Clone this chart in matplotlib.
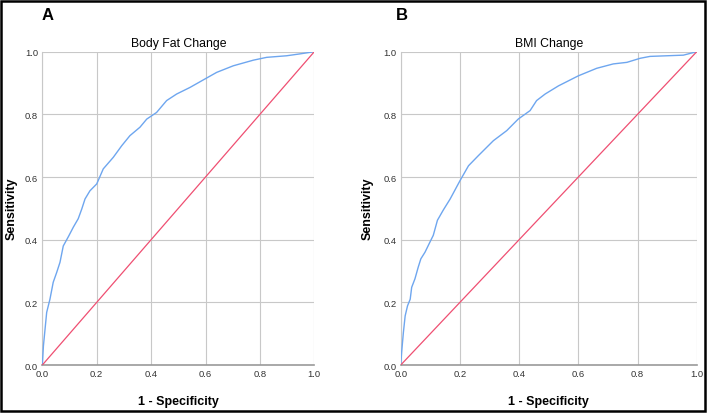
import numpy as np
import matplotlib
matplotlib.use("Agg")
import matplotlib.pyplot as plt
from matplotlib.patches import Rectangle

plt.rcParams['font.family'] = ['Liberation Sans', 'DejaVu Sans']

# ROC curve points (1 - specificity, sensitivity)
fat_fpr = [0.0, 0.004, 0.016, 0.028, 0.04, 0.053, 0.065, 0.077, 0.096, 0.114, 0.132, 0.145,
           0.157, 0.175, 0.2, 0.224, 0.261, 0.292, 0.322, 0.359, 0.384, 0.42, 0.457, 0.494,
           0.543, 0.598, 0.641, 0.702, 0.776, 0.825, 0.898, 0.947, 1.0]
fat_tpr = [0.0, 0.061, 0.168, 0.21, 0.264, 0.296, 0.328, 0.38, 0.41, 0.44, 0.467, 0.498,
           0.53, 0.556, 0.578, 0.626, 0.663, 0.70, 0.732, 0.759, 0.785, 0.806, 0.844, 0.865,
           0.886, 0.913, 0.934, 0.955, 0.973, 0.982, 0.987, 0.993, 1.0]

bmi_fpr = [0.0, 0.003, 0.009, 0.015, 0.023, 0.032, 0.037, 0.048, 0.059, 0.068, 0.082, 0.099,
           0.11, 0.124, 0.144, 0.167, 0.2, 0.229, 0.262, 0.313, 0.358, 0.397, 0.437, 0.459,
           0.488, 0.533, 0.6, 0.662, 0.718, 0.764, 0.809, 0.842, 0.955, 1.0]
bmi_tpr = [0.0, 0.04, 0.104, 0.157, 0.189, 0.21, 0.248, 0.275, 0.312, 0.339, 0.36, 0.393,
           0.414, 0.462, 0.495, 0.53, 0.588, 0.636, 0.668, 0.716, 0.748, 0.785, 0.812, 0.844,
           0.865, 0.891, 0.923, 0.947, 0.961, 0.966, 0.979, 0.985, 0.989, 1.0]

titles = ['Body Fat Change', 'BMI Change']
letters = ['A', 'B']
ticks = [0.0, 0.2, 0.4, 0.6, 0.8, 1.0]

fig = plt.figure(figsize=(7.09, 4.14), dpi=100)
fig.patches.append(Rectangle((0.002, 0.004), 0.993, 0.992, transform=fig.transFigure,
                             fill=False, edgecolor='black', linewidth=1.8))

positions = [[0.0597, 0.1159, 0.3836, 0.7568], [0.5652, 0.1159, 0.4175, 0.7568]]
curves = [(fat_fpr, fat_tpr), (bmi_fpr, bmi_tpr)]
letter_x = [0.059, 0.5585]
ylabel_x = [0.016, 0.518]

for i in range(2):
    ax = fig.add_axes(positions[i])
    ax.plot(curves[i][0], curves[i][1], color='#6ea6ef', linewidth=1.0, zorder=3)
    ax.plot([0, 1], [0, 1], color='#ef4f72', linewidth=0.9, zorder=3)
    ax.set_xlim(0, 1)
    ax.set_ylim(0, 1)
    ax.set_xticks(ticks)
    ax.set_yticks(ticks)
    ax.set_xticklabels(['%.1f' % t for t in ticks])
    ax.set_yticklabels(['%.1f' % t for t in ticks])
    ax.tick_params(length=0, labelsize=6.8, colors='#333333', pad=3)
    ax.grid(True, color='#c8c8c8', linewidth=0.8)
    ax.set_axisbelow(True)
    for s in ['top', 'right']:
        ax.spines[s].set_visible(False)
    ax.spines['left'].set_color('#c8c8c8')
    ax.spines['left'].set_linewidth(0.8)
    ax.spines['bottom'].set_color('#9a9a9a')
    ax.spines['bottom'].set_linewidth(1.2)
    ax.set_title(titles[i], fontsize=8.8, pad=4)
    ax.set_xlabel('1 - Specificity', fontsize=9, fontweight='bold', labelpad=12)
    fig.text(ylabel_x[i], 0.495, 'Sensitivity', rotation=90, fontsize=9,
             fontweight='bold', ha='center', va='center')
    fig.text(letter_x[i], 0.962, letters[i], fontsize=12, fontweight='bold',
             ha='left', va='center')

fig.savefig('out.png', dpi=100)
